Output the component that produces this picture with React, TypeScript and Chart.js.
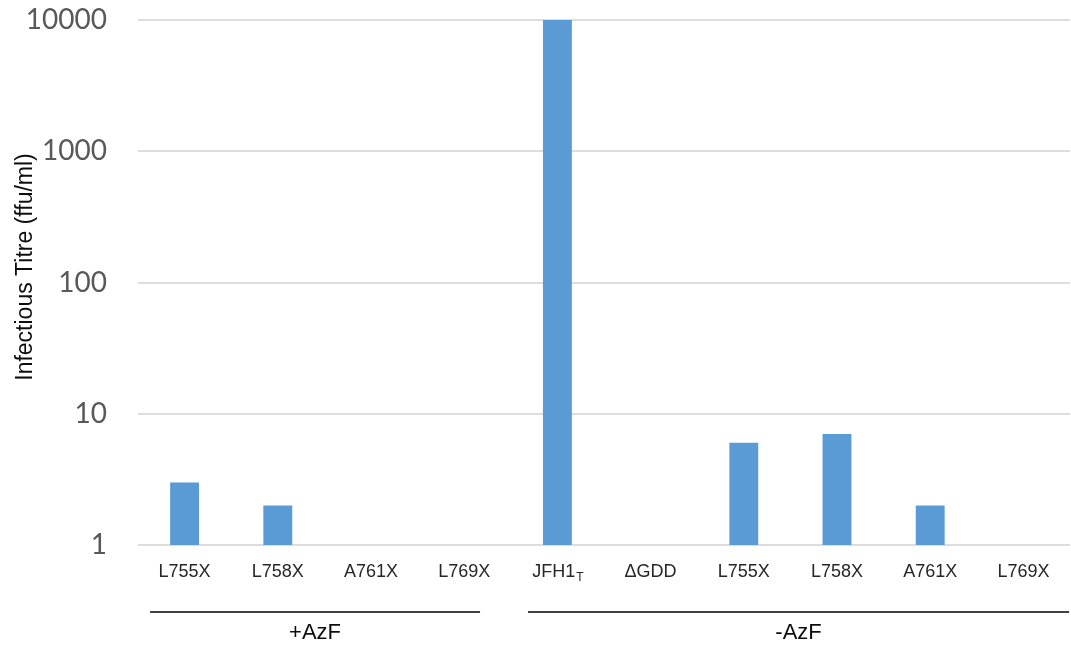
import React, { useEffect, useRef } from "react";
import { Chart, registerables } from "chart.js";

Chart.register(...registerables);

const categories = ["L755X", "L758X", "A761X", "L769X", "JFH1", "ΔGDD", "L755X", "L758X", "A761X", "L769X"];
const categorySubscripts = ["", "", "", "", "T", "", "", "", "", ""];
const titres: (number | null)[] = [3, 2, null, null, 10000, null, 6, 7, 2, null];
const yTicks = [1, 10, 100, 1000, 10000];
const yTitle = "Infectious Titre (ffu/ml)";
const groupLabels = ["+AzF", "-AzF"];
const groupStart = [0, 4];
const groupEnd = [3, 9];

// layout/style (fractions of a category width)
const groupLineInsetStart = [0.37, 0.315];
const groupLineInsetEnd = [0.17, 0.49];

const overlayPlugin = {
  id: "overlay",
  afterDraw(chart: any) {
    const ctx = chart.ctx;
    const x = chart.scales.x;
    const area = chart.chartArea;
    const w = (area.right - area.left) / categories.length;
    ctx.save();
    // category labels
    ctx.fillStyle = "#262626";
    ctx.textBaseline = "middle";
    const mainFont = "18px 'Liberation Sans', Arial, sans-serif";
    const subFont = "12px 'Liberation Sans', Arial, sans-serif";
    categories.forEach((c, i) => {
      const cx = x.getPixelForValue(i);
      ctx.font = mainFont;
      const mw = ctx.measureText(c).width;
      const sub = categorySubscripts[i];
      ctx.font = subFont;
      const sw = sub ? ctx.measureText(sub).width : 0;
      const start = cx - (mw + sw) / 2;
      ctx.textAlign = "left";
      ctx.font = mainFont;
      ctx.fillText(c, start, area.bottom + 27);
      if (sub) {
        ctx.font = subFont;
        ctx.fillText(sub, start + mw + 1, area.bottom + 33);
      }
    });
    // group lines and labels
    ctx.strokeStyle = "#000000";
    ctx.lineWidth = 1.5;
    ctx.fillStyle = "#0d0d0d";
    ctx.font = "22px 'Liberation Sans', Arial, sans-serif";
    ctx.textAlign = "center";
    groupLabels.forEach((g, i) => {
      const x1 = x.getPixelForValue(groupStart[i]) - groupLineInsetStart[i] * w;
      const x2 = x.getPixelForValue(groupEnd[i]) + groupLineInsetEnd[i] * w;
      const ly = area.bottom + 67;
      ctx.beginPath();
      ctx.moveTo(x1, ly);
      ctx.lineTo(x2, ly);
      ctx.stroke();
      ctx.fillText(g, (x1 + x2) / 2, area.bottom + 88);
    });
    // y title
    ctx.translate(26, 267);
    ctx.rotate(-Math.PI / 2);
    ctx.font = "23px 'Liberation Sans', Arial, sans-serif";
    ctx.fillStyle = "#0d0d0d";
    ctx.fillText(yTitle, 0, 0);
    ctx.restore();
  },
};

export default function App() {
  const ref = useRef<HTMLCanvasElement>(null);
  useEffect(() => {
    const chart = new Chart(ref.current!, {
      type: "bar",
      data: {
        labels: categories.map((c, i) => c + categorySubscripts[i]),
        datasets: [
          {
            data: titres as any,
            backgroundColor: "#5B9BD5",
            barPercentage: 0.31,
            categoryPercentage: 1,
          },
        ],
      },
      options: {
        animation: false,
        responsive: true,
        maintainAspectRatio: false,
        layout: { padding: { top: 20, right: 1, left: 0, bottom: 0 } },
        plugins: { legend: { display: false }, tooltip: { enabled: false } },
        scales: {
          x: {
            grid: { display: false },
            border: { display: false },
            ticks: { display: false },
            afterFit: (s: any) => {
              s.height = 101;
            },
          },
          y: {
            type: "logarithmic",
            min: 1,
            max: 10000,
            afterBuildTicks: (s: any) => {
              s.ticks = yTicks.map((v) => ({ value: v }));
            },
            afterFit: (s: any) => {
              s.width = 138;
              s.paddingTop = 0;
              s.paddingBottom = 0;
            },
            grid: { color: "#DDDDDD", lineWidth: 2, drawTicks: false },
            border: { display: false },
            ticks: {
              padding: 31,
              color: "#595959",
              font: { family: "Lato", size: 28 },
              callback: (v: any) => String(v),
            },
          },
        },
      },
      plugins: [overlayPlugin],
    });
    return () => chart.destroy();
  }, []);
  return (
    <div style={{ position: "absolute", left: 0, top: 0, width: 1071, height: 646 }}>
      <canvas ref={ref} />
    </div>
  );
}
